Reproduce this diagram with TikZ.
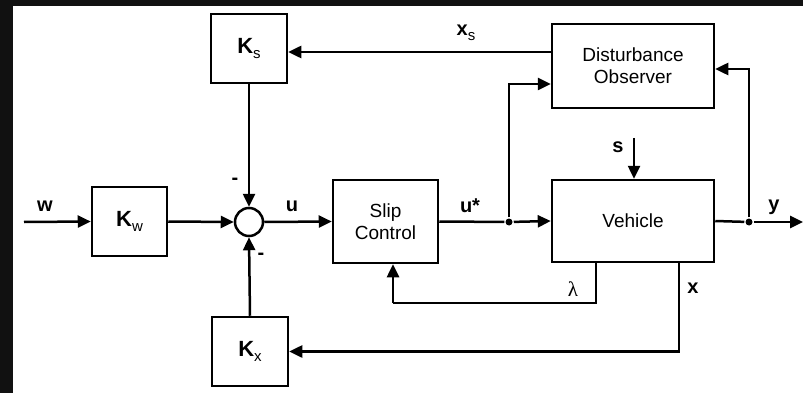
\documentclass[tikz,border=0pt]{standalone}
\usepackage{fontspec}
\setmainfont{Liberation Sans}
\newfontfamily\serifgr{Liberation Serif}
\usetikzlibrary{arrows.meta,calc}
\definecolor{edge}{RGB}{17,17,17}
\newcommand{\bxfont}{\fontsize{19}{22}\selectfont}
\newcommand{\lbfont}{\fontsize{20}{22}\selectfont\bfseries}
\newcommand{\subsc}[1]{\raisebox{-5pt}{\fontsize{15}{15}\selectfont\mdseries #1}}
\newcommand{\gainK}[1]{{\bfseries\fontsize{22}{22}\selectfont K}\subsc{#1}}
\begin{document}
\begin{tikzpicture}[x=1pt,y=-1pt,
  line width=2.5pt,
  >={Triangle[length=13pt,width=12pt]},
  blk/.style={draw,rectangle,inner sep=0pt,align=center,font=\bxfont},
  gain/.style={blk,minimum width=76pt,minimum height=69pt},
  sumc/.style={draw,circle,minimum size=28pt,inner sep=0pt},
  dotj/.style={fill,circle,inner sep=0pt,minimum size=7pt},
  lab/.style={inner sep=0pt,font=\lbfont},
  thinl/.style={line width=1.3pt}]
\fill[edge] (0,0) rectangle (803,393);
\fill[white] (13,6) rectangle (803,393);
\useasboundingbox (0,0) rectangle (803,393);

% blocks
\node[gain] (Ks) at (249,48.5) {\gainK{s}};
\node[gain,minimum width=75pt] (Kw) at (129.5,221.5) {\gainK{w}};
\node[gain] (Kx) at (250,351.5) {\gainK{x}};
\node[sumc] (sum) at (249,222) {};
\node[blk,minimum width=105pt,minimum height=83pt] (SC) at (385.5,221.5) {Slip\\Control};
\node[blk,minimum width=162pt,minimum height=82pt] (Veh) at (633,221) {Vehicle};
\node[blk,minimum width=162pt,minimum height=84pt] (DO) at (633,66) {Disturbance\\Observer};

% junctions and free ends
\node[dotj] (j1) at (509,222) {};
\node[dotj] (j2) at (749,222) {};
\coordinate (win) at (24,222);
\coordinate (yout) at (803,222);
\coordinate (sin) at (634,138);
\coordinate (lamd) at (596,303);
\coordinate (laml) at (393,303);

% connectors
\draw[->] (win) -- (Kw.west);
\draw[->] (Kw.east) -- (sum.west);
\draw[->] (sum.east) -- (SC.west);
\draw (SC.east) -- (j1);
\draw[->] (j1) -- (Veh.west);
\draw[->] (j1) |- ([yshift=-18pt]DO.west);
\draw (Veh.east) -- (j2);
\draw[->] (j2) -- (yout);
\draw[->] (j2) |- ([yshift=-3pt]DO.east);
\draw[->] (DO.west |- 0,52) -- (Ks.east |- 0,52);
\draw[->] (Ks.south) -- (sum.north);
\draw[->] (Kx.north) -- (sum.south);
\draw[->] (sin) -- (sin |- Veh.north);
\draw[thinl] (lamd |- Veh.south) -- (lamd) -- (laml);
\draw[->] (laml) -- (laml |- SC.south);
\draw[->] (679,0 |- Veh.south) |- (Kx.east);

% labels
\node[lab] (lw) at (45,206) {w};
\node[lab] (lu) at (292,206) {u};
\node[lab] (lus) at (470,206) {u*};
\node[lab] (ly) at (774,207) {y};
\node[lab] (ls) at (618,147) {s};
\node[lab] (lxs) at (466,33) {x\subsc{s}};
\node[lab] (lx) at (693,288) {x};
\node[inner sep=0pt,font=\serifgr\fontsize{21}{22}\selectfont] (llam) at (573,289) {λ};
\node[lab] (m1) at (235,181) {-};
\node[lab] (m2) at (261,256) {-};
\end{tikzpicture}
\end{document}
